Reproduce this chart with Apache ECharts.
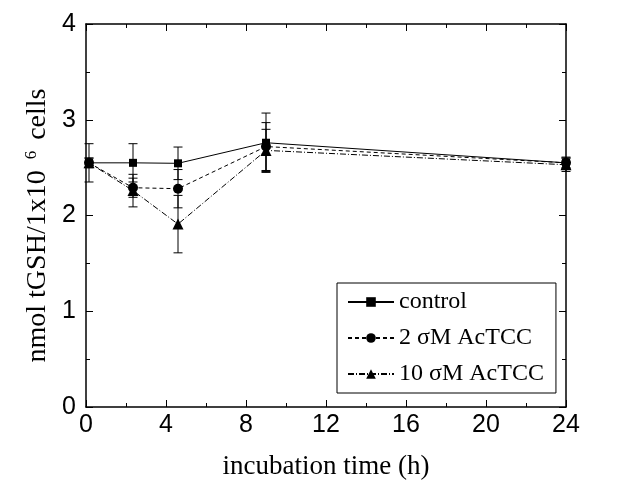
<!DOCTYPE html>
<html>
<head>
<meta charset="utf-8">
<script src="https://cdn.jsdelivr.net/npm/echarts@6/dist/echarts.min.js"></script>
<style>
html,body{margin:0;padding:0;background:#fff;}
#chart{width:641px;height:492px;}
</style>
</head>
<body>
<div id="chart"></div>
<script>
// positions of the sampling times as drawn on the printed axis
const xPos = [0.15, 2.35, 4.6, 9, 24];
const xTicks = [0, 4, 8, 12, 16, 20, 24];
const yTicks = [0, 1, 2, 3, 4];
const seriesNames = ['control', '2 σM AcTCC', '10 σM AcTCC'];
const control = [2.55, 2.55, 2.545, 2.76, 2.55];
const controlErr = [0.2, 0.2, 0.17, 0.31, 0.06];
const ac2 = [2.55, 2.29, 2.28, 2.72, 2.55];
const ac2Err = [0.05, 0.1, 0.2, 0.25, 0.05];
const ac10 = [2.55, 2.26, 1.91, 2.68, 2.53];
const ac10Err = [0.05, 0.17, 0.3, 0.22, 0.07];

const chart = echarts.init(document.getElementById('chart'));

function pts(vals) { return vals.map((v, i) => [xPos[i], v]); }
function errPts(vals, errs) { return vals.map((v, i) => [xPos[i], v, errs[i]]); }

function errSeries(vals, errs) {
  return {
    type: 'custom',
    data: errPts(vals, errs),
    z: 1,
    silent: true,
    renderItem: function (params, api) {
      const x = api.value(0), y = api.value(1), e = api.value(2);
      const top = api.coord([x, y + e]);
      const bot = api.coord([x, y - e]);
      const hw = 4.5;
      const st = { stroke: '#000', lineWidth: 1 };
      return {
        type: 'group',
        children: [
          { type: 'line', shape: { x1: top[0], y1: top[1], x2: bot[0], y2: bot[1] }, style: st },
          { type: 'line', shape: { x1: top[0] - hw, y1: top[1], x2: top[0] + hw, y2: top[1] }, style: st },
          { type: 'line', shape: { x1: bot[0] - hw, y1: bot[1], x2: bot[0] + hw, y2: bot[1] }, style: st }
        ]
      };
    }
  };
}

const sansTick = { fontFamily: 'Liberation Sans', fontSize: 25, color: '#000' };
const axisLineStyle = { onZero: false, lineStyle: { color: '#000', width: 1.5 } };
const tickStyle = { inside: true, length: 7, lineStyle: { color: '#000', width: 1 } };
const minorStyle = { show: true, splitNumber: 2, length: 4, lineStyle: { color: '#000', width: 1 } };

const option = {
  animation: false,
  backgroundColor: '#fff',
  grid: { left: 86, right: 75, top: 24, bottom: 85, containLabel: false },
  legend: {
    orient: 'vertical',
    left: 337,
    top: 283,
    width: 219,
    padding: [7, 12, 7, 10],
    itemWidth: 46,
    itemHeight: 12,
    itemGap: 12,
    borderColor: '#000',
    borderWidth: 1,
    data: seriesNames,
    textStyle: { fontFamily: 'Liberation Serif', fontSize: 24, color: '#000', lineHeight: 24 }
  },
  xAxis: [{
    type: 'value', min: 0, max: 24, interval: 4,
    name: 'incubation time (h)', nameLocation: 'middle', nameGap: 46,
    nameMoveOverlap: false,
    nameTextStyle: { fontFamily: 'Liberation Serif', fontSize: 27, color: '#000' },
    axisLine: axisLineStyle,
    axisTick: tickStyle,
    minorTick: minorStyle,
    splitLine: { show: false },
    axisLabel: Object.assign({ margin: 6, formatter: v => xTicks.includes(v) ? String(v) : '' }, sansTick)
  }, {
    type: 'value', min: 0, max: 24, interval: 4, position: 'top',
    axisLine: axisLineStyle,
    axisTick: tickStyle,
    minorTick: minorStyle,
    splitLine: { show: false },
    axisLabel: { show: false }
  }],
  yAxis: [{
    type: 'value', min: 0, max: 4, interval: 1,
    name: 'nmol tGSH/1x10 {sup|6} cells', nameLocation: 'middle', nameGap: 34,
    nameMoveOverlap: false,
    nameTextStyle: {
      fontFamily: 'Liberation Serif', fontSize: 28, color: '#000',
      padding: [0, 20, 0, 0],
      rich: { sup: { fontFamily: 'Liberation Serif', fontSize: 17, color: '#000', verticalAlign: 'top', padding: [0, 4, 12, 4] } }
    },
    axisLine: axisLineStyle,
    axisTick: tickStyle,
    minorTick: minorStyle,
    splitLine: { show: false },
    axisLabel: Object.assign({ margin: 10, formatter: v => yTicks.includes(v) ? String(v) : '' }, sansTick)
  }, {
    type: 'value', min: 0, max: 4, interval: 1, position: 'right',
    axisLine: axisLineStyle,
    axisTick: tickStyle,
    minorTick: minorStyle,
    splitLine: { show: false },
    axisLabel: { show: false }
  }],
  series: [
    errSeries(control, controlErr),
    errSeries(ac2, ac2Err),
    errSeries(ac10, ac10Err),
    {
      name: seriesNames[0], type: 'line', data: pts(control), z: 3,
      symbol: 'rect', symbolSize: 8, clip: false,
      lineStyle: { color: '#000', width: 1, type: 'solid' },
      itemStyle: { color: '#000' }
    },
    {
      name: seriesNames[1], type: 'line', data: pts(ac2), z: 3,
      symbol: 'circle', symbolSize: 10, clip: false,
      lineStyle: { color: '#000', width: 1, type: [4, 3] },
      itemStyle: { color: '#000' }
    },
    {
      name: seriesNames[2], type: 'line', data: pts(ac10), z: 3,
      symbol: 'triangle', symbolSize: 11, clip: false,
      lineStyle: { color: '#000', width: 1, type: [6, 2, 1, 2] },
      itemStyle: { color: '#000' }
    }
  ]
};
chart.setOption(option);
</script>
</body>
</html>
